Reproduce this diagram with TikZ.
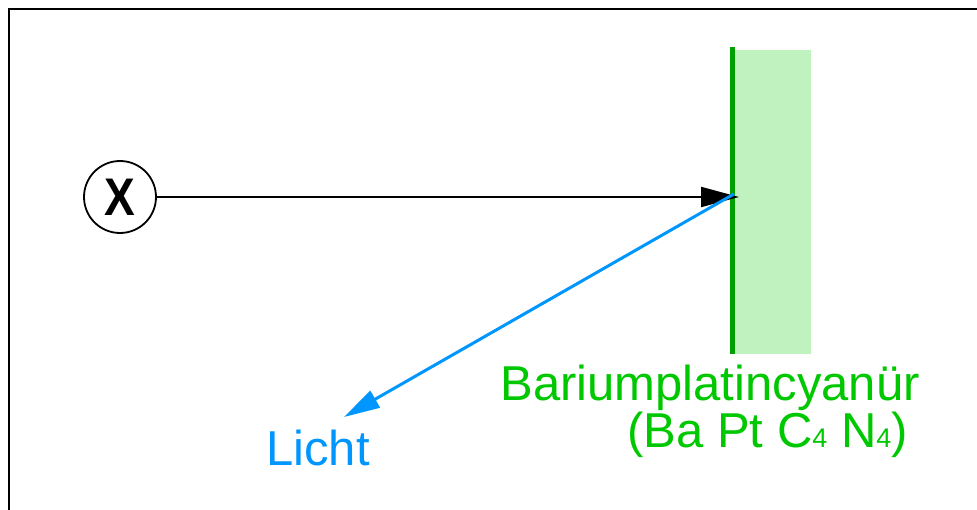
\documentclass[tikz,border=0pt]{standalone}
\usepackage{fontspec}
\setmainfont{Liberation Sans}
\usetikzlibrary{arrows.meta}
\definecolor{platedark}{RGB}{0,160,0}
\definecolor{platelight}{RGB}{192,242,192}
\definecolor{lightblue}{RGB}{0,150,255}
\definecolor{labelgreen}{RGB}{0,200,0}
\begin{document}
\begin{tikzpicture}[x=1pt,y=-1pt,
  source/.style={draw,circle,line width=1.8pt,minimum size=72pt,inner sep=0pt,font=\fontsize{46}{46}\selectfont\bfseries},
  ray/.style={line width=2pt,-{Triangle[length=38pt,width=20pt]}},
  lightray/.style={draw=lightblue,line width=3pt,-{Triangle[length=36pt,width=19pt]}},
  bigtext/.style={font=\fontsize{49}{49}\selectfont,inner sep=0pt}]
\useasboundingbox (0,0) rectangle (977,510);
\draw[line width=2.5pt] (9,510) -- (9,9) -- (977,9);
% screen
\fill[platelight] (735,50) rectangle (811,354);
\fill[platedark] (730,47) rectangle (735,354);
% source
\node[source] (src) at (120,197) {\scalebox{1}[1.15]{X}};
\coordinate (hit) at (739,197);
\draw[ray] (src) -- (hit);
% light
\coordinate (emit) at (734,194);
\coordinate (lend) at (344,417);
\draw[lightray] (emit) -- (lend);
\node[bigtext,text=lightblue,anchor=base] (licht) at (318,465) {Licht};
\node[bigtext,text=labelgreen,anchor=base east] (name) at (920,400) {Bariumplatincyanür};
\node[bigtext,text=labelgreen,anchor=base east] (formula) at (908,447) {(Ba Pt C{\fontsize{27}{27}\selectfont 4} N{\fontsize{27}{27}\selectfont 4})};
\end{tikzpicture}
\end{document}
